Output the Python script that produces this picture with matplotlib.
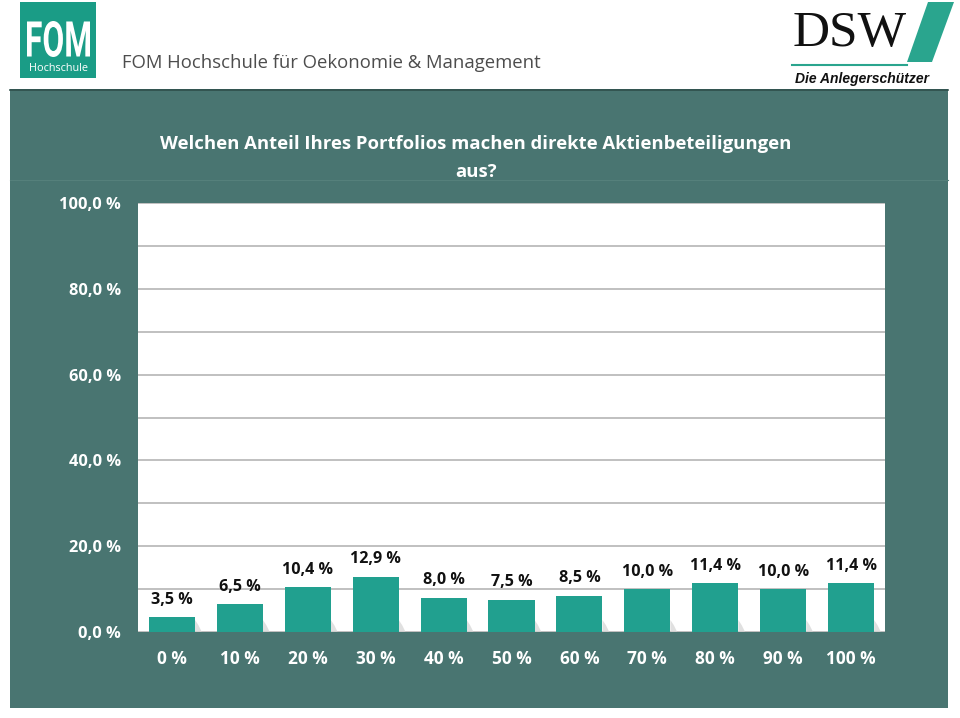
import matplotlib.pyplot as plt
from matplotlib.patches import Rectangle, Polygon, PathPatch
from matplotlib.textpath import TextPath
from matplotlib.font_manager import FontProperties
from matplotlib.transforms import Affine2D, IdentityTransform

# Anteil direkter Aktienbeteiligungen am Portfolio
kategorien = ["0 %", "10 %", "20 %", "30 %", "40 %", "50 %", "60 %", "70 %", "80 %", "90 %", "100 %"]
anteile = [3.5, 6.5, 10.4, 12.9, 8.0, 7.5, 8.5, 10.0, 11.4, 10.0, 11.4]
y_ticks = [0, 20, 40, 60, 80, 100]

titel = "Welchen Anteil Ihres Portfolios machen direkte Aktienbeteiligungen\naus?"

TEAL = "#497571"
BAR = "#21a08f"
W, H = 960, 718

plt.rcParams['font.family'] = ['Open Sans', 'DejaVu Sans']

fig = plt.figure(figsize=(W / 100, H / 100), dpi=100)
fig.patch.set_facecolor("white")


def fx(px):
    return px / W


def fy(py):
    return 1 - py / H


# Kopfbereich: FOM-Logo
fig.patches.append(Rectangle((fx(20), fy(78)), fx(76), 76 / H, transform=fig.transFigure,
                             facecolor="#1a9c86", edgecolor="none"))
# "FOM" schmal und hoch: Textpfad in die Box skalieren
tp = TextPath((0, 0), "FOM", size=10, prop=FontProperties(family="Roboto", weight="bold"))
bb = tp.get_extents()
sx = (90 - 27) / bb.width
sy = (57 - 21) / bb.height
tr = Affine2D().translate(-bb.x0, -bb.y0).scale(sx, sy).translate(27, H - 57)
fig.patches.append(PathPatch(tr.transform_path(tp), transform=IdentityTransform(),
                             facecolor="white", edgecolor="none"))
fig.text(fx(58.5), fy(68.5), "Hochschule", color="white", fontsize=7.8, ha="center", va="center")
fig.text(fx(122), fy(63), "FOM Hochschule für Oekonomie & Management", color="#4d4d4d",
         fontsize=13.3, ha="left", va="center")

# DSW-Logo
fig.text(fx(850), fy(34), "DSW", color="#111111", fontsize=37, family="Liberation Serif",
         ha="center", va="center")
fig.patches.append(Polygon([(fx(928), fy(2)), (fx(954), fy(2)), (fx(932), fy(62)), (fx(907), fy(62))],
                           closed=True, transform=fig.transFigure, facecolor="#2aa58e", edgecolor="none"))
fig.lines.append(plt.Line2D([fx(792), fx(907)], [fy(65), fy(65)], transform=fig.transFigure,
                            color="#2aa58e", linewidth=1.5))
fig.text(fx(862), fy(79), "Die Anlegerschützer", color="#111111", fontsize=10, fontweight="bold",
         style="italic", family="Liberation Sans", ha="center", va="center")

# Teal-Fläche
fig.patches.append(Rectangle((fx(10), fy(708)), fx(938), 619 / H, transform=fig.transFigure,
                             facecolor=TEAL, edgecolor="none", zorder=0))
fig.lines.append(plt.Line2D([fx(10), fx(948)], [fy(89.5), fy(89.5)], transform=fig.transFigure,
                            color="#2f4f4b", linewidth=1.2))
fig.lines.append(plt.Line2D([fx(10), fx(948)], [fy(180), fy(180)], transform=fig.transFigure,
                            color="#55807b", linewidth=0.8))

fig.text(fx(476), fy(158), titel, color="white", fontsize=13.3, fontweight="bold",
         ha="center", va="center", linespacing=1.75)

ax = fig.add_axes([fx(138), fy(632), fx(747), 429 / H])
ax.set_zorder(5)
ax.set_facecolor("white")
x = range(len(kategorien))
breite = 0.68
ax.bar(x, anteile, width=breite, color=BAR, zorder=3)
# leichter Schatten rechts unten an den Balken
for xi, v in zip(x, anteile):
    r = xi + breite / 2
    ax.add_patch(Polygon([(r, 0), (r + 0.1, 0), (r + 0.05, 1.6), (r, 2.8)], closed=True,
                         facecolor="#d4d4d4", edgecolor="none", alpha=0.7, zorder=2))
for xi, v in zip(x, anteile):
    ax.text(xi, v + 2.2, f"{v:.1f} %".replace(".", ","), ha="center", va="bottom",
            fontsize=11.6, fontweight="bold", color="#111111", zorder=4)

ax.set_xlim(-0.5, len(kategorien) - 0.5)
ax.set_ylim(0, 100)
ax.grid(axis="y", color="#b5b5b5", linewidth=1.2, zorder=0)
ax.set_yticks(range(0, 101, 10))
ax.set_yticklabels([f"{t},0 %" if t in y_ticks else "" for t in range(0, 101, 10)])
ax.set_xticks(list(x))
ax.set_xticklabels(kategorien)
ax.tick_params(axis="both", length=0, labelcolor="white")
ax.tick_params(axis="y", pad=12.5, labelsize=11.8)
ax.tick_params(axis="x", pad=13, labelsize=12.4)
for lbl in ax.get_xticklabels() + ax.get_yticklabels():
    lbl.set_fontweight("bold")
for s in ax.spines.values():
    s.set_visible(False)

fig.savefig("out.png", dpi=100, facecolor="white")
